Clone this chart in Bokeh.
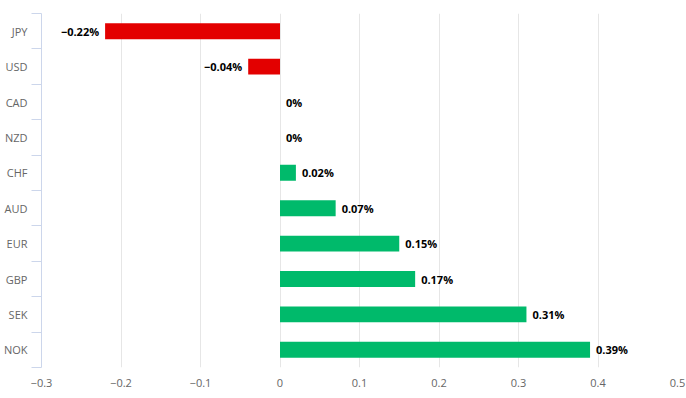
from bokeh.plotting import figure
from bokeh.models import ColumnDataSource, Range1d, FixedTicker
from bokeh.core.properties import value
from bokeh.embed import file_html
from bokeh.resources import INLINE

currencies = ["JPY", "USD", "CAD", "NZD", "CHF", "AUD", "EUR", "GBP", "SEK", "NOK"]
changes = [-0.22, -0.04, 0.0, 0.0, 0.02, 0.07, 0.15, 0.17, 0.31, 0.39]
x_ticks = [-0.3, -0.2, -0.1, 0, 0.1, 0.2, 0.3, 0.4, 0.5]

RED = "#e30000"
GREEN = "#00ba6b"

pos = [i + 0.5 for i in range(len(currencies))]
colors = [RED if v < 0 else GREEN for v in changes]

def fmt(v):
    if v == 0:
        return "0%"
    s = f"{abs(v):g}%"
    return ("\u2212" + s) if v < 0 else s

labels = [fmt(v) for v in changes]

src = ColumnDataSource(dict(y=pos, v=changes, color=colors, label=labels))
neg_idx = [i for i, v in enumerate(changes) if v < 0]
pos_idx = [i for i, v in enumerate(changes) if v >= 0]
src_neg = ColumnDataSource(dict(y=[pos[i] for i in neg_idx], v=[changes[i] for i in neg_idx],
                                label=[labels[i] for i in neg_idx]))
src_pos = ColumnDataSource(dict(y=[pos[i] for i in pos_idx], v=[changes[i] for i in pos_idx],
                                label=[labels[i] for i in pos_idx]))

p = figure(width=686, height=389, output_backend="svg", toolbar_location=None,
           x_range=Range1d(-0.3, 0.5), y_range=Range1d(len(currencies), 0),
           min_border_left=0, min_border_right=9, min_border_top=13, min_border_bottom=20)
p.outline_line_color = None
p.background_fill_color = "white"

p.hbar(y="y", left=0, right="v", height=0.45, color="color", line_color=None, source=src)

p.text(x="v", y="y", text="label", source=src_pos, x_offset=6,
       text_align="left", text_baseline="middle", text_font=value("Open Sans"),
       text_font_style="bold", text_font_size="11px", text_color="#000000")
p.text(x="v", y="y", text="label", source=src_neg, x_offset=-6,
       text_align="right", text_baseline="middle", text_font=value("Open Sans"),
       text_font_style="bold", text_font_size="11px", text_color="#000000")

# x axis
p.xaxis.ticker = FixedTicker(ticks=x_ticks)
p.xaxis.major_label_overrides = {t: (f"{t:g}".replace("-", "\u2212")) for t in x_ticks}
p.xaxis.axis_line_color = None
p.xaxis.major_tick_line_color = None
p.xaxis.minor_tick_line_color = None
p.xaxis.major_label_standoff = 5
p.xaxis.major_label_text_font = "Open Sans"
p.xaxis.major_label_text_font_size = "11px"
p.xaxis.major_label_text_color = "#666666"

# y axis: labels at centers, ticks at boundaries
p.yaxis.ticker = FixedTicker(ticks=pos, minor_ticks=list(range(len(currencies) + 1)))
p.yaxis.major_label_overrides = {c: n for c, n in zip(pos, currencies)}
p.yaxis.axis_line_color = "#ccd6eb"
p.yaxis.major_tick_line_color = None
p.yaxis.minor_tick_line_color = "#ccd6eb"
p.yaxis.minor_tick_out = 10
p.yaxis.minor_tick_in = 0
p.yaxis.major_tick_out = 0
p.yaxis.major_tick_in = 0
p.yaxis.major_label_standoff = 4
p.yaxis.major_label_text_font = "Open Sans"
p.yaxis.major_label_text_font_size = "11px"
p.yaxis.major_label_text_color = "#666666"

p.xgrid.grid_line_color = "#e6e6e6"
p.ygrid.grid_line_color = None

open("out.html", "w").write(file_html(p, INLINE))
